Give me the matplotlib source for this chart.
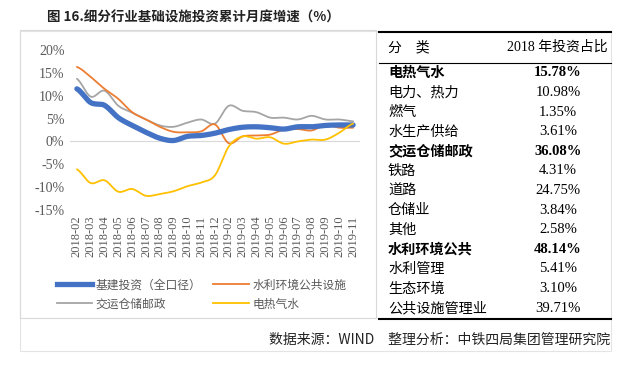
import numpy as np
import matplotlib
matplotlib.use("Agg")
import matplotlib.pyplot as plt
from matplotlib.lines import Line2D

months = ["2018-02", "2018-03", "2018-04", "2018-05", "2018-06", "2018-07", "2018-08",
          "2018-09", "2018-10", "2018-11", "2018-12", "2019-02", "2019-03", "2019-04",
          "2019-05", "2019-06", "2019-07", "2019-08", "2019-09", "2019-10", "2019-11"]
infra_total = [11.5, 8.5, 7.9, 5.2, 3.5, 2.0, 0.7, 0.2, 1.1, 1.3, 1.8,
               2.6, 3.1, 3.2, 3.0, 2.7, 3.2, 3.2, 3.5, 3.6, 3.6]
water_env = [16.3, 14.1, 11.5, 9.3, 6.4, 4.8, 3.2, 2.1, 2.0, 2.2, 3.7,
             -0.4, 1.1, 1.3, 1.5, 2.6, 2.7, 2.4, 3.6, 3.0, 3.0]
transport = [13.7, 9.8, 11.1, 7.8, 6.3, 4.8, 3.5, 3.2, 4.1, 4.8, 3.9,
             7.8, 6.7, 6.4, 5.2, 5.2, 4.8, 5.6, 4.8, 4.8, 4.4]
power_water = [-6.1, -9.1, -8.5, -11.0, -10.4, -11.9, -11.5, -10.9, -9.8, -9.0, -7.4,
               -1.1, 1.1, 0.6, 0.9, -0.5, 0.0, 0.4, 0.4, 1.9, 3.9]

series_names = ["基建投资（全口径）", "水利环境公共设施", "交运仓储邮政", "电热气水"]
yticks = [-15, -10, -5, 0, 5, 10, 15, 20]

table_rows = ["电热气水", "电力、热力", "燃气", "水生产供给", "交运仓储邮政", "铁路", "道路",
              "仓储业", "其他", "水利环境公共", "水利管理", "生态环境", "公共设施管理业"]
table_vals = ["15.78%", "10.98%", "1.35%", "3.61%", "36.08%", "4.31%", "24.75%",
              "3.84%", "2.58%", "48.14%", "5.41%", "3.10%", "39.71%"]
bold_rows = ["电热气水", "交运仓储邮政", "水利环境公共"]

SERIF = ["Liberation Serif", "Noto Sans CJK SC"]
CJK = ["Noto Sans CJK SC", "Liberation Serif"]


def smooth(y, n=12):
    # catmull-rom curve through the points, like excel's smoothed line
    y = np.asarray(y, float)
    p = np.concatenate([[y[0]], y, [y[-1]]])
    xs, ys = [], []
    for i in range(len(y) - 1):
        p0, p1, p2, p3 = p[i], p[i + 1], p[i + 2], p[i + 3]
        t = np.linspace(0, 1, n, endpoint=False)
        v = 0.5 * (2 * p1 + (-p0 + p2) * t + (2 * p0 - 5 * p1 + 4 * p2 - p3) * t ** 2
                   + (-p0 + 3 * p1 - 3 * p2 + p3) * t ** 3)
        xs.extend(i + t)
        ys.extend(v)
    xs.append(len(y) - 1)
    ys.append(y[-1])
    return np.array(xs), np.array(ys)


fig = plt.figure(figsize=(6.28, 3.66), dpi=100)
W, H = 628, 366


def fx(px):
    return px / W


def fy(py):
    return 1 - py / H


# frames
fig.add_artist(plt.Rectangle((fx(20), fy(351)), fx(591), 320 / H, fill=False,
                             edgecolor="#e4e4e4", lw=0.8))
fig.add_artist(plt.Rectangle((fx(20), fy(318)), fx(356), 288 / H, fill=False,
                             edgecolor="#d9d9d9", lw=0.8))

fig.text(fx(47), fy(18), "图 16.细分行业基础设施投资累计月度增速（%）", fontsize=9.7,
         fontweight="bold", family=CJK, va="center", ha="left", color="#222222")

ax = fig.add_axes([fx(70), fy(210), fx(290), 160 / H])
x = np.arange(len(months))
colors = ["#4472C4", "#ED7D31", "#A5A5A5", "#FFC000"]
widths = [3.8, 1.3, 1.3, 1.3]
data = [infra_total, water_env, transport, power_water]
order = [0, 2, 1, 3]  # legend fills column by column
for k in [2, 1, 0, 3]:
    sx, sy = smooth(data[k])
    ax.plot(sx, sy, color=colors[k], lw=widths[k], solid_capstyle="round", zorder=3)
ax.axhline(0, color="#d9d9d9", lw=0.8, zorder=1)
ax.set_xlim(-0.5, len(months) - 0.5)
ax.set_ylim(-15, 20)
ax.set_yticks(yticks)
ax.set_yticklabels([f"{v}%" for v in yticks], family=SERIF, fontsize=10, color="#595959")
ax.set_xticks(x)
ax.set_xticklabels(months, rotation=90, family=SERIF, fontsize=9, color="#595959")
ax.tick_params(length=0, pad=4)
for s in ax.spines.values():
    s.set_visible(False)

handles = [Line2D([], [], color=colors[k], lw=widths[k]) for k in order]
labels = [series_names[k] for k in order]
fig.legend(handles, labels, loc="upper left", bbox_to_anchor=(fx(46), fy(268)),
           ncol=2, frameon=False, prop={"family": CJK, "size": 8.5},
           labelcolor="#595959", handlelength=3.0, columnspacing=1.0,
           handletextpad=0.3, labelspacing=0.5)

# table
fig.add_artist(Line2D([fx(379), fx(611)], [fy(32), fy(32)], color="black", lw=1.5))
fig.add_artist(Line2D([fx(379), fx(611)], [fy(63), fy(63)], color="black", lw=0.8))
fig.add_artist(Line2D([fx(379), fx(611)], [fy(319), fy(319)], color="black", lw=1.5))
fig.text(fx(388), fy(47), "分　类", family=CJK, fontsize=10, va="center", ha="left")
fig.text(fx(608), fy(47), "2018 年投资占比", family=SERIF, fontsize=10, va="center",
         ha="right")
for i, (name, val) in enumerate(zip(table_rows, table_vals)):
    yy = fy(73 + i * 19.6)
    wt = "bold" if name in bold_rows else "normal"
    fig.text(fx(388), yy, name, family=CJK, fontsize=10.2, fontweight=wt, va="center",
             ha="left")
    fig.text(fx(558), yy, val, family=SERIF, fontsize=10.5, fontweight=wt, va="center",
             ha="center")

fig.text(fx(610), fy(340), "数据来源：WIND　整理分析：中铁四局集团管理研究院", family=CJK,
         fontsize=10, va="center", ha="right", color="#222222")

fig.savefig("out.png", dpi=100, facecolor="white")
